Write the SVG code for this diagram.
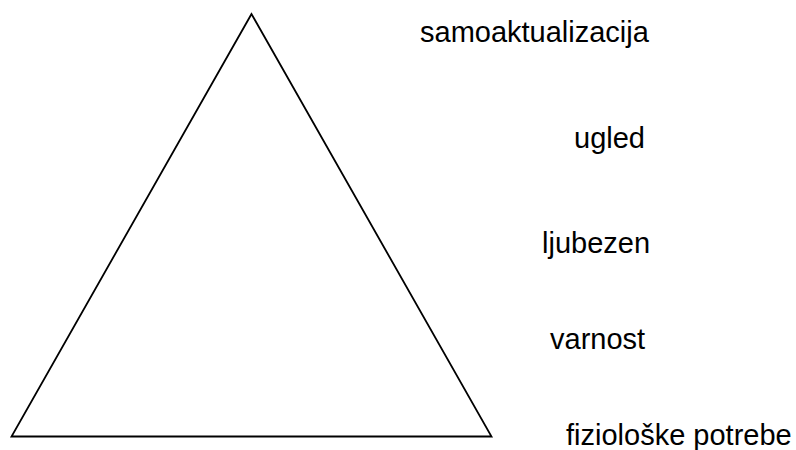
<svg xmlns="http://www.w3.org/2000/svg" width="796" height="450" viewBox="0 0 796 450">
<style>
.lbl{font-family:"Liberation Sans",Arial,sans-serif;font-size:29px;fill:#000}
</style>
<rect width="796" height="450" fill="#fff"/>
<g id="pyramid">
<polygon points="251.5,14 11.5,436.5 491.5,436.5" fill="none" stroke="#000" stroke-width="1.8" stroke-linejoin="miter"/>
</g>
<g id="labels">
<text class="lbl" x="420" y="42">samoaktualizacija</text>
<text class="lbl" x="574" y="148">ugled</text>
<text class="lbl" x="542" y="253">ljubezen</text>
<text class="lbl" x="550" y="349">varnost</text>
<text class="lbl" x="566" y="445">fiziološke potrebe</text>
</g>
</svg>
